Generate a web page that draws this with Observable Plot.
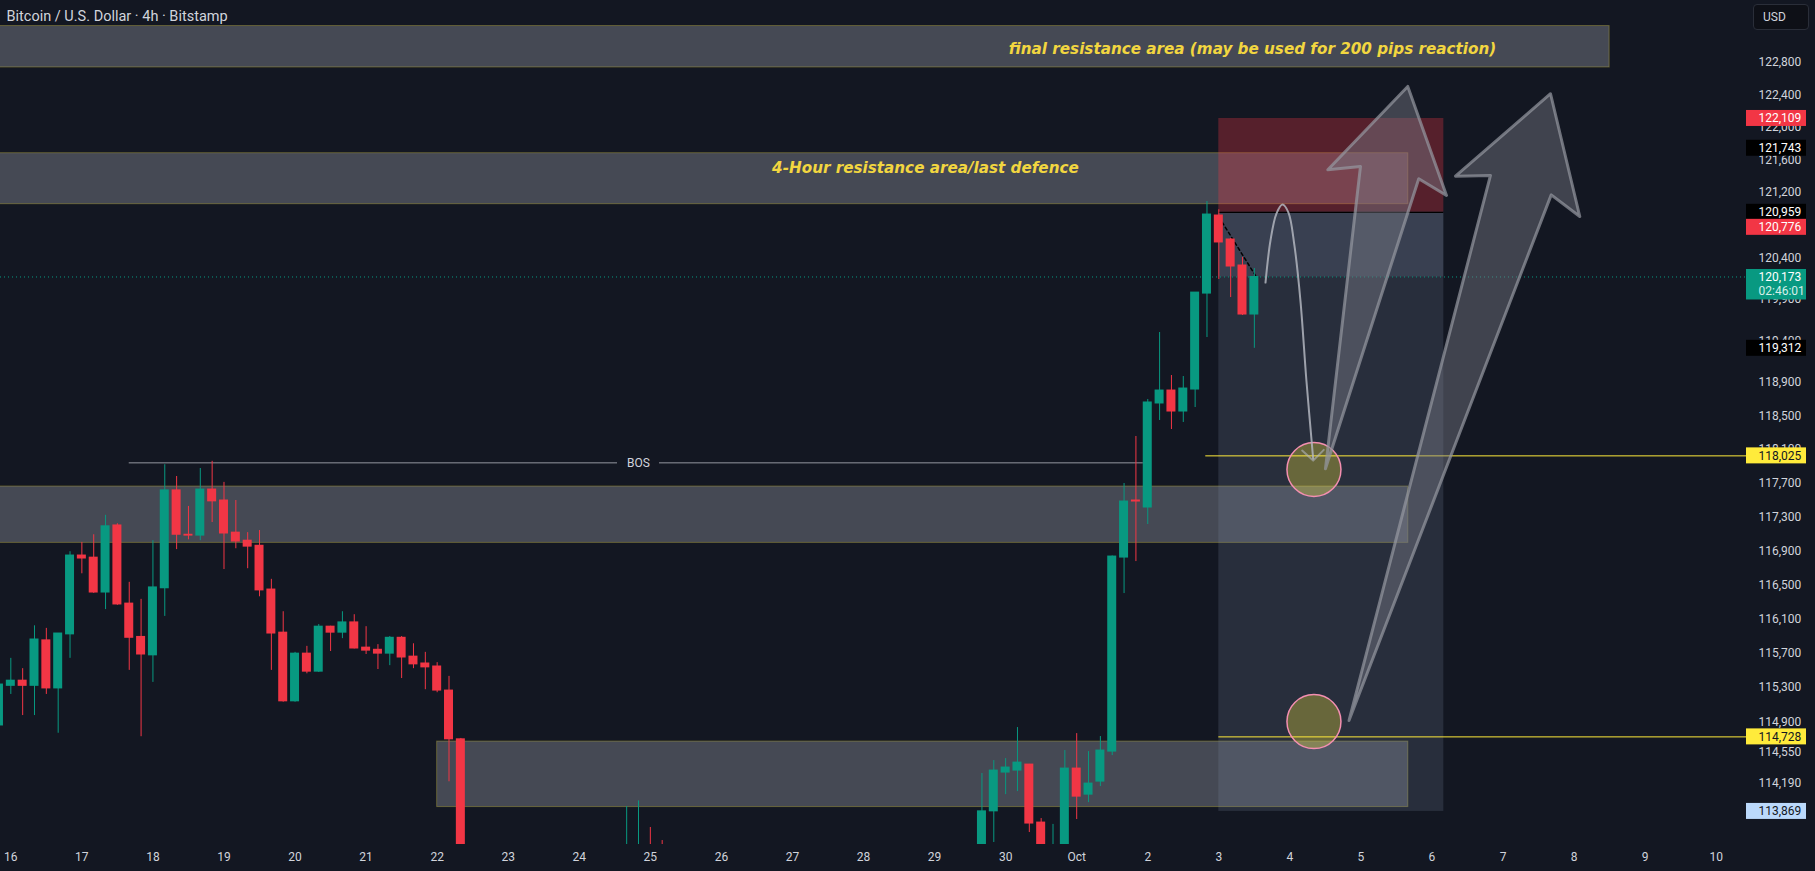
<!DOCTYPE html>
<html><head><meta charset="utf-8">
<script src="https://cdn.jsdelivr.net/npm/d3@7"></script>
<script src="https://cdn.jsdelivr.net/npm/@observablehq/plot@0.6"></script>
<style>
html,body{margin:0;padding:0;background:#131722;}
#wrap{position:relative;width:1815px;height:871px;overflow:hidden;}
#wrap svg{position:absolute;left:0;top:0;}
#usd{position:absolute;left:1753px;top:4px;width:56px;height:26px;border:1px solid #2a2e39;border-radius:4px;background:#0e1017;color:#d1d4dc;font:12px Roboto,sans-serif;line-height:24px;padding-left:9px;box-sizing:border-box;}
</style></head><body><div id="wrap"><div id="usd">USD</div></div>
<script>
// ---- candles (4h, Bitstamp BTC/USD) ----
const candleStart = "2025-09-15T20:00:00Z";
const open  = [114860,115320,115380,115320,115850,115290,115920,116845,116820,116410,117200,116280,115890,115675,116460,117615,117090,117080,117625,117495,117115,117020,116960,116445,115940,115140,115695,115485,116010,115940,116060,115765,115740,115695,115880,115660,115580,115545,115265,114700,112700,112800,112900,112700,112600,112900,113000,112400,112200,112600,112800,113000,112900,113200,113350,113400,113100,112900,111700,110800,109000,109300,109000,109200,109600,109500,109700,109600,109500,109400,109600,109700,109500,109600,109700,109800,110100,110400,111000,112100,112000,112400,112700,113100,113870,114316,114339,114408,113741,113250,113400,114362,114062,114212,114558,116821,117495,117412,118650,118805,118554,118817,119972,120920,120628,120312,119719];
const high  = [115360,115640,115520,116020,115990,115930,116890,117000,117090,117320,117220,116530,116330,117020,117920,117780,117425,117875,117960,117710,117495,117115,117140,116565,116185,115710,115780,116035,116015,116185,116150,116010,115800,115895,115895,115810,115710,115590,115430,114710,113000,113200,113050,113100,113000,113200,113300,112800,112700,113000,113200,113300,113400,113925,113990,113685,113535,113000,112000,111200,109600,109500,109400,109800,110000,109900,110000,109800,109700,109700,109900,109900,109800,109900,110000,110300,110600,111200,112400,112300,112600,112900,113300,114305,114454,114477,114836,114410,113787,113720,114570,114766,114558,114732,116840,117697,118256,118698,119502,118985,118973,119984,121091,120990,120640,120410,120276];
const low   = [114840,115220,114975,114975,115220,114770,115640,116630,116400,116210,116260,115500,114730,115360,116130,116915,117030,117020,117235,116680,116925,116690,116360,115500,115130,115130,115460,115475,115720,115870,115750,115685,115510,115555,115405,115520,115275,115240,114210,112500,112300,112500,112600,112400,112300,112600,112200,111600,111900,112300,112500,112700,112600,112900,113100,112900,112700,111500,110500,108700,108800,108700,108600,109000,109200,109100,109400,109300,109200,109200,109400,109400,109300,109400,109500,109600,109900,110300,110900,111700,111800,112200,112500,112950,113513,114062,114097,113627,112700,112900,113300,113776,113970,114155,114512,116398,116774,117211,118447,118339,118423,118602,119442,120142,119924,119707,119312];
const close = [115335,115380,115320,115860,115290,115930,116845,116810,116410,117190,116270,115880,115685,116470,117615,117090,117080,117625,117485,117105,117010,116950,116435,115930,115140,115695,115485,116010,115940,116060,115755,115730,115695,115880,115650,115570,115535,115265,114700,112700,112800,112900,112700,112600,112900,113000,112400,112200,112600,112800,113000,112900,113200,113350,113400,113100,112900,111700,110800,109000,109300,109000,109200,109600,109500,109700,109600,109500,109400,109600,109700,109500,109600,109700,109800,110100,110400,111000,112100,112000,112400,112700,113100,113870,114339,114374,114431,113730,113250,113400,114362,114039,114189,114570,116833,117483,117483,118662,118805,118554,118829,119984,120932,120592,120300,119719,120173];

// ---- axes ----
const xStart = "2025-09-15T20:31:00Z";
const xEnd = "2025-10-10T10:54:00Z";
const yDomain = [113490, 123570];
const dayTickStart = "2025-09-16T00:00:00Z";
const dayLabels = ["16","17","18","19","20","21","22","23","24","25","26","27","28","29","30","Oct","2","3","4","5","6","7","8","9","10"];
const priceTicks = [114190,114550,114900,115300,115700,116100,116500,116900,117300,117700,118100,118500,118900,119400,119900,120400,120800,121200,121600,122000,122400,122800];

// ---- drawings ----
const zoneX1 = ["2025-09-15T00:00Z","2025-09-15T00:00Z","2025-09-15T00:00Z","2025-09-22T00:00Z"];
const zoneX2 = ["2025-10-08T12:00Z","2025-10-05T16:00Z","2025-10-05T16:00Z","2025-10-05T16:00Z"];
const zoneLow  = [122738,121058,116994,113919];
const zoneHigh = [123252,121682,117661,114674];

const posStart = "2025-10-03T00:00Z", posEnd = "2025-10-06T04:00Z";
const posStop = 122109, posEntry = 120959, posTarget = 113869, lastPrice = 120173;

const bosLevel = 117942;
const bosSegStart = ["2025-09-17T16:00Z","2025-09-25T03:06Z"];
const bosSegEnd   = ["2025-09-24T12:55Z","2025-10-01T22:30Z"];
const bosLabelTime = "2025-09-24T20:00Z";

const levelValues = [118025, 114728];
const levelStart  = ["2025-10-02T19:36Z","2025-10-03T00:00Z"];

const circleTime = ["2025-10-04T08:08Z","2025-10-04T08:08Z"];
const circlePrice = [117863, 114905];

const curveTime  = ["2025-10-03T15:46Z","2025-10-03T17:27Z","2025-10-03T19:28Z","2025-10-03T21:29Z","2025-10-03T23:31Z","2025-10-04T01:32Z","2025-10-04T03:34Z","2025-10-04T05:35Z","2025-10-04T07:52Z"];
const curvePrice = [120105,120616,120944,121054,120956,120556,119888,118925,117993];
const chevronTime  = ["2025-10-04T04:09Z","2025-10-04T07:52Z","2025-10-04T11:27Z"];
const chevronPrice = [118088,117969,118096];

const arrow1Time  = ["2025-10-04T12:01Z","2025-10-04T23:51Z","2025-10-04T12:49Z","2025-10-05T15:49Z","2025-10-06T04:54Z","2025-10-05T19:32Z"];
const arrow1Price = [117871,121520,121479,122504,121165,121369];
const arrow2Time  = ["2025-10-04T19:58Z","2025-10-06T19:45Z","2025-10-06T07:56Z","2025-10-07T16:02Z","2025-10-08T01:55Z","2025-10-07T16:16Z"];
const arrow2Price = [114917,121410,121401,122414,120908,121172];

const trendTime  = ["2025-10-03T01:08Z","2025-10-03T12:24Z"];
const trendPrice = [120838,120189];

const noteText  = ["final resistance area (may be used for 200 pips reaction)","4-Hour resistance area/last defence"];
const noteTime  = ["2025-10-03T11:22Z","2025-09-28T20:55Z"];
const notePrice = [122967,121495];

const tagValues = [122109,121743,120959,120776,119312,118025,114728,113869];
const tagBg     = ["#f23645","#000000","#000000","#f23645","#000000","#ffeb3b","#ffeb3b","#bbd9fb"];
const tagFg     = ["#ffffff","#ffffff","#ffffff","#ffffff","#ffffff","#131722","#131722","#131722"];
const lastTimer = "02:46:01";
const title = "Bitcoin / U.S. Dollar · 4h · Bitstamp";

// ---- build tables ----
const H = 3600e3;
const t0 = +new Date(candleStart);
const candles = open.map((o, i) => ({date: new Date(t0 + i * 4 * H), open: o, high: high[i], low: low[i], close: close[i]}));
const col = d => d.close >= d.open ? "#089981" : "#f23645";
const dayTicks = dayLabels.map((l, i) => ({date: new Date(+new Date(dayTickStart) + i * 24 * H), label: l}));
const D = s => new Date(s);
const XEND = D(xEnd);
const zones = zoneLow.map((v, i) => ({x1: D(zoneX1[i]), x2: D(zoneX2[i]), y1: v, y2: zoneHigh[i]}));
const pts = (ts, ps) => ts.map((t, i) => ({x: D(t), y: ps[i]}));
const curve = pts(curveTime, curvePrice);
const chevron = pts(chevronTime, chevronPrice);
const arrow1 = pts(arrow1Time, arrow1Price);
const arrow2 = pts(arrow2Time, arrow2Price);
const trend = pts(trendTime, trendPrice);
const circles = pts(circleTime, circlePrice);
const notes = noteText.map((t, i) => ({text: t, x: D(noteTime[i]), y: notePrice[i]}));
const tags = tagValues.map((v, i) => ({v, bg: tagBg[i], fg: tagFg[i]}));
const fmt = d3.format(",");
const FONT = "Roboto, 'Noto Sans', sans-serif";

const plot = Plot.plot({
  width: 1815, height: 871,
  marginLeft: 0, marginRight: 67, marginTop: 0, marginBottom: 27,
  x: {type: "utc", domain: [D(xStart), XEND], axis: null},
  y: {type: "log", domain: yDomain, axis: null},
  style: {background: "#131722", fontFamily: FONT},
  marks: [
    Plot.rect(zones, {x1: "x1", x2: "x2", y1: "y1", y2: "y2", fill: "#787b86", fillOpacity: 0.5, stroke: "#ffeb3b", strokeOpacity: 0.28, clip: true}),
    Plot.rect([0], {x1: () => D(posStart), x2: () => D(posEnd), y1: () => posEntry, y2: () => posStop, fill: "#f23645", fillOpacity: 0.3}),
    Plot.rect([0], {x1: () => D(posStart), x2: () => D(posEnd), y1: () => posTarget, y2: () => posEntry, fill: "#7c8aa5", fillOpacity: 0.2}),
    Plot.rect([0], {x1: () => D(posStart), x2: () => D(posEnd), y1: () => lastPrice, y2: () => posEntry, fill: "#7c8aa5", fillOpacity: 0.2}),
    Plot.ruleY([posEntry], {x1: () => D(posStart), x2: () => D(posEnd), stroke: "#000000", strokeWidth: 1.2}),
    Plot.ruleY([lastPrice], {stroke: "#089981", strokeDasharray: "1,3", strokeWidth: 1}),
    Plot.ruleY(bosSegStart, {y: () => bosLevel, x1: d => D(d), x2: (d, i) => D(bosSegEnd[i]), stroke: "#9598a1", strokeWidth: 1}),
    Plot.text([bosLabelTime], {x: d => D(d), y: () => bosLevel, text: () => "BOS", fill: "#d1d4dc", fontSize: 12}),
    Plot.ruleY(levelValues, {x1: (d, i) => D(levelStart[i]), x2: () => XEND, stroke: "#ffeb3b", strokeWidth: 1}),
    Plot.dot(circles, {x: "x", y: "y", r: 27, fill: "#ffeb3b", fillOpacity: 0.3, stroke: "#f48fb1", strokeWidth: 1.5}),
    Plot.line(curve, {x: "x", y: "y", curve: "catmull-rom", stroke: "#b2b5be", strokeOpacity: 0.85, strokeWidth: 2}),
    Plot.line(chevron, {x: "x", y: "y", stroke: "#b2b5be", strokeOpacity: 0.6, strokeWidth: 2}),
    Plot.line(arrow1, {x: "x", y: "y", curve: "linear-closed", fill: "#787b86", fillOpacity: 0.45, stroke: "#9598a1", strokeOpacity: 0.7, strokeWidth: 3, strokeLinejoin: "round"}),
    Plot.line(arrow2, {x: "x", y: "y", curve: "linear-closed", fill: "#787b86", fillOpacity: 0.45, stroke: "#9598a1", strokeOpacity: 0.7, strokeWidth: 3, strokeLinejoin: "round"}),
    Plot.line(trend, {x: "x", y: "y", stroke: "#000000", strokeDasharray: "3,3", strokeWidth: 1.5}),
    Plot.ruleX(candles, {x: "date", y1: "low", y2: "high", stroke: col, strokeWidth: 1, clip: true}),
    Plot.rect(candles, {x1: d => new Date(+d.date - 1.52 * H), x2: d => new Date(+d.date + 1.52 * H), y1: "open", y2: "close", fill: col, insetTop: -0.5, insetBottom: -0.5, clip: true}),
    Plot.text(notes, {x: "x", y: "y", text: "text", fill: "#f2d640", fontSize: 15.2, fontWeight: "bold", fontStyle: "italic", fontFamily: "'DejaVu Sans', sans-serif"}),
    Plot.text([title], {frameAnchor: "top-left", dx: 6, dy: 10, fill: "#d1d4dc", fontSize: 14.5, textAnchor: "start"}),
    Plot.text(dayTicks, {x: "date", y: () => yDomain[0], dy: 13, text: "label", fill: "#d1d4dc", fontSize: 12}),
    Plot.text(priceTicks, {x: () => XEND, y: d => d, dx: 10, text: d => fmt(d), textAnchor: "start", fill: "#d1d4dc", fontSize: 12}),
    Plot.rect(tags, {x1: () => XEND, x2: () => XEND, y1: "v", y2: "v", insetLeft: -2, insetRight: -58, insetTop: -8, insetBottom: -8, fill: d => d.bg}),
    Plot.text(tags, {x: () => XEND, y: "v", dx: 10, text: d => fmt(d.v), textAnchor: "start", fill: d => d.fg, fontSize: 12}),
    Plot.rect([lastPrice], {x1: () => XEND, x2: () => XEND, y1: d => d, y2: d => d, insetLeft: -2, insetRight: -58, insetTop: -7.5, insetBottom: -23, fill: "#089981"}),
    Plot.text([lastPrice], {x: () => XEND, y: d => d, dx: 10, text: d => fmt(d), textAnchor: "start", fill: "#ffffff", fontSize: 12}),
    Plot.text([lastPrice], {x: () => XEND, y: d => d, dx: 10, dy: 14, text: () => lastTimer, textAnchor: "start", fill: "#d5efe9", fontSize: 12})
  ]
});
const wrap = document.getElementById("wrap");
wrap.insertBefore(plot, wrap.firstChild);
</script></body></html>
